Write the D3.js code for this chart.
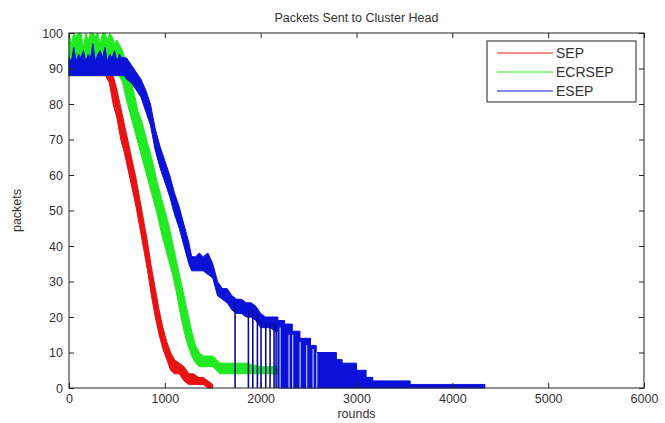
<!DOCTYPE html>
<html>
<head>
<meta charset="utf-8">
<script src="https://cdn.jsdelivr.net/npm/d3@7"></script>
<style>
  body { margin: 0; background: #fff; }
  svg text { font-family: "Liberation Sans", Arial, sans-serif; fill: #333; }
</style>
</head>
<body>
<svg id="chart"></svg>
<script>
// values: each series is a noisy band, kept as upper / lower edges
const xTicks = [0, 1000, 2000, 3000, 4000, 5000, 6000];
const yTicks = [0, 10, 20, 30, 40, 50, 60, 70, 80, 90, 100];
const seriesNames = ["SEP", "ECRSEP", "ESEP"];

const sepRounds = [0, 100, 200, 300, 380, 420, 460, 500, 540, 580, 620, 660, 700, 740, 780, 820, 860, 900, 940, 980, 1020, 1060, 1100, 1150, 1200, 1250, 1300, 1350, 1400, 1450, 1500];
const sepHigh = [94, 93, 94, 93, 94, 92, 88, 84, 79, 74, 69, 64, 59, 53, 47, 41, 34, 28, 22, 17, 13, 10, 8, 7, 6, 4, 4, 3, 3, 2, 1];
const sepLow = [88, 88, 88, 88, 88, 86, 80, 76, 70, 66, 61, 56, 51, 45, 39, 33, 26, 20, 15, 11, 8, 5, 4, 4, 2, 1, 1, 1, 1, 0, 0];

const ecrRounds = [0, 25, 50, 75, 100, 125, 150, 175, 200, 225, 250, 275, 300, 325, 350, 375, 400, 425, 450, 475, 500,
  520, 560, 600, 640, 680, 720, 760, 800, 840, 880, 920, 960, 1000, 1040, 1080, 1120, 1160, 1200, 1240, 1280, 1320, 1360, 1400, 1450, 1500,
  1575, 1700, 1850, 2000, 2150, 2300, 2450, 2650];
const ecrHigh = [100, 97, 100, 99, 100, 100, 96, 100, 98, 100, 100, 99, 100, 97, 100, 100, 98, 100, 99, 97, 98,
  97, 95, 91, 87, 83, 78, 75, 71, 67, 63, 58, 54, 50, 46, 41, 36, 31, 26, 21, 16, 12, 10, 9, 9, 9,
  7, 7, 7, 6, 6, 6, 6, 6];
const ecrLow = [88, 88, 88, 88, 88, 88, 88, 88, 88, 88, 88, 88, 88, 88, 88, 88, 88, 88, 88, 88, 88,
  88, 86, 81, 77, 73, 69, 65, 61, 57, 53, 49, 44, 40, 36, 32, 27, 21, 16, 12, 9, 7, 6, 6, 6, 6,
  4, 4, 4, 4, 4, 4, 4, 4];

const esepRounds = [0, 25, 50, 75, 100, 125, 150, 175, 200, 225, 250, 275, 300, 325, 350, 375, 400, 425, 450, 475, 500, 525, 550, 575,
  600, 650, 700, 750, 800, 850, 900, 950, 1000, 1050, 1100, 1150, 1200, 1250, 1280, 1320, 1360, 1400, 1450, 1500,
  1550, 1600, 1650, 1700, 1750, 1800, 1850, 1900, 1950, 2000, 2050, 2100, 2150, 2180, 2250, 2330, 2410, 2520, 2580,
  2790, 2850, 3000, 3100, 3170, 3560, 4340];
const esepHigh = [93, 92, 96, 92, 94, 93, 95, 92, 94, 93, 97, 92, 94, 95, 93, 96, 92, 94, 93, 95, 92, 94, 93, 93,
  93, 91, 89, 87, 84, 80, 73, 68, 64, 60, 55, 51, 46, 41, 37, 37, 38, 37, 38, 35,
  30, 28, 28, 26, 25, 25, 24, 24, 23, 21, 20, 20, 20, 19, 18, 16, 14, 12, 10,
  8, 7, 5, 3, 2, 1, 1];
const esepLow = [88, 88, 88, 88, 88, 88, 88, 88, 88, 88, 88, 88, 88, 88, 88, 88, 88, 88, 88, 88, 88, 88, 88, 88,
  87, 86, 84, 82, 78, 74, 67, 62, 58, 54, 49, 45, 40, 35, 33, 33, 33, 33, 32, 31,
  26, 25, 24, 22, 21, 21, 20, 20, 19, 17, 17, 17, 16, 0, 0, 0, 0, 0, 0,
  0, 0, 0, 0, 0, 0, 0];
// from this round on ESEP falls in flat steps
const esepStepFrom = 2180;

// ESEP drops to zero in single rounds, and leaves thin gaps in its filled part
const esepDropRounds = [1733, 1872, 1918, 1966, 2004, 2053, 2098, 2140, 2161];
const esepGapRounds = [2203, 2296, 2335, 2411, 2481, 2547, 2586];
const esepGapTops = [17, 15, 15, 13, 12, 11, 10];

const colors = ["#e81212", "#22ea22", "#0a12d8"];

const width = 665, height = 423;
const margin = { top: 33, right: 21, bottom: 35, left: 69 };

const svg = d3.select("#chart").attr("width", width).attr("height", height);

const x = d3.scaleLinear().domain([0, 6000]).range([margin.left, width - margin.right]);
const y = d3.scaleLinear().domain([0, 100]).range([height - margin.bottom, margin.top]);

const plot = svg.append("g");

function band(rounds, hi, lo) {
  return rounds.map((r, i) => ({ r: r, hi: hi[i], lo: lo[i] }));
}

const area = d3.area()
  .x(d => x(d.r))
  .y0(d => y(d.lo))
  .y1(d => y(d.hi));
const stepArea = d3.area()
  .curve(d3.curveStepAfter)
  .x(d => x(d.r))
  .y0(d => y(d.lo))
  .y1(d => y(d.hi));

const sepBand = band(sepRounds, sepHigh, sepLow);
const ecrBand = band(ecrRounds, ecrHigh, ecrLow);
const esepBand = band(esepRounds, esepHigh, esepLow);

function drawBand(d, gen, color) {
  plot.append("path")
    .attr("d", gen(d))
    .attr("fill", color)
    .attr("stroke", color)
    .attr("stroke-width", 1);
}

drawBand(sepBand, area, colors[0]);
drawBand(ecrBand, area, colors[1]);
drawBand(esepBand.filter(d => d.r <= esepStepFrom - 30), area, colors[2]);
drawBand(esepBand.filter(d => d.r >= esepStepFrom - 30), stepArea, colors[2]);

// the single-round drops to zero
const dropTop = r => {
  let k = d3.bisectRight(esepRounds, r) - 1;
  return (esepHigh[k] + esepLow[k]) / 2;
};
plot.selectAll(".drop")
  .data(esepDropRounds)
  .join("line")
  .attr("x1", d => x(d)).attr("x2", d => x(d))
  .attr("y1", y(0)).attr("y2", d => y(dropTop(d)))
  .attr("stroke", "#0a0a9a")
  .attr("stroke-width", 1.6);

plot.selectAll(".gap")
  .data(esepGapRounds)
  .join("line")
  .attr("x1", d => x(d)).attr("x2", d => x(d))
  .attr("y1", y(0)).attr("y2", (d, i) => y(esepGapTops[i]))
  .attr("stroke", "#dfe6f6")
  .attr("stroke-width", 1);

// axes, MATLAB style: box with inward ticks on all four sides
const fmt = d3.format("d");
svg.append("g")
  .attr("transform", `translate(0,${y(0)})`)
  .call(d3.axisBottom(x).tickValues(xTicks).tickSize(-5).tickPadding(6).tickFormat(fmt));
svg.append("g")
  .attr("transform", `translate(${x(0)},0)`)
  .call(d3.axisLeft(y).tickValues(yTicks).tickSize(-5).tickPadding(6).tickFormat(fmt));
svg.append("g")
  .attr("transform", `translate(0,${y(100)})`)
  .call(d3.axisTop(x).tickValues(xTicks).tickSize(-5).tickFormat(""));
svg.append("g")
  .attr("transform", `translate(${x(6000)},0)`)
  .call(d3.axisRight(y).tickValues(yTicks).tickSize(-5).tickFormat(""));

svg.selectAll(".domain").remove();
svg.selectAll(".tick line").attr("stroke", "#222");
svg.selectAll(".tick text").attr("font-size", 12.5).attr("fill", "#333");

svg.append("rect")
  .attr("x", x(0)).attr("y", y(100))
  .attr("width", x(6000) - x(0)).attr("height", y(0) - y(100))
  .attr("fill", "none").attr("stroke", "#222").attr("stroke-width", 1);

svg.append("text")
  .attr("x", (x(0) + x(6000)) / 2).attr("y", 22)
  .attr("text-anchor", "middle").attr("font-size", 12.5)
  .text("Packets Sent to Cluster Head");

svg.append("text")
  .attr("x", (x(0) + x(6000)) / 2).attr("y", 418)
  .attr("text-anchor", "middle").attr("font-size", 12.5)
  .text("rounds");

svg.append("text")
  .attr("transform", `translate(21,${(y(0) + y(100)) / 2}) rotate(-90)`)
  .attr("text-anchor", "middle").attr("font-size", 12.5)
  .text("packets");

// legend
const legend = svg.append("g").attr("transform", "translate(487,41)");
legend.append("rect")
  .attr("width", 149).attr("height", 61)
  .attr("fill", "#fff").attr("stroke", "#222").attr("stroke-width", 1);
seriesNames.forEach((name, i) => {
  const ly = 12 + i * 19;
  legend.append("line")
    .attr("x1", 10).attr("x2", 66).attr("y1", ly).attr("y2", ly)
    .attr("stroke", colors[i]).attr("stroke-width", 1);
  legend.append("text")
    .attr("x", 69).attr("y", ly + 5)
    .attr("font-size", 14)
    .text(name);
});
</script>
</body>
</html>
